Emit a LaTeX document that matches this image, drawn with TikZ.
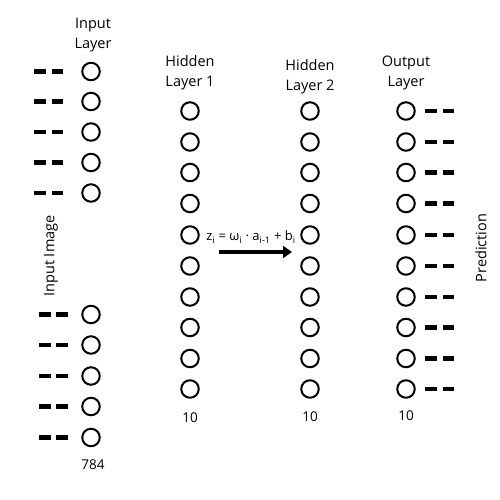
\documentclass[tikz,border=0pt]{standalone}
\usepackage{fontspec}
\setmainfont{Open Sans}
\usetikzlibrary{arrows.meta}
\begin{document}
\begin{tikzpicture}[x=1pt,y=-1pt,
  neuron/.style={circle,draw,line width=2pt,minimum size=17.5pt,inner sep=0pt},
  lbl/.style={font=\fontsize{14.5}{20}\selectfont,align=center,inner sep=0pt},
  num/.style={font=\fontsize{13.5}{15}\selectfont,inner sep=0pt},
  dashmark/.style={line width=4.5pt},
  bigarrow/.style={line width=3.5pt,-{Triangle[length=9pt,width=12pt]}}]
\useasboundingbox (0,0) rectangle (500,500);
% input layer
\foreach \y [count=\i] in {71.5,101.5,132,162.5,193}{
  \node[neuron] (in\i) at (91,\y) {};
  \draw[dashmark] ([xshift=-57pt]in\i.center) -- ++(12,0);
  \draw[dashmark] ([xshift=-39pt]in\i.center) -- ++(11,0);
}
\foreach \y [count=\i from 6] in {314.5,345,376,406.5,437.5}{
  \node[neuron] (in\i) at (91,\y) {};
  \draw[dashmark] ([xshift=-52pt]in\i.center) -- ++(12,0);
  \draw[dashmark] ([xshift=-35pt]in\i.center) -- ++(12,0);
}
\node[lbl] (inlab) at (93,35) {Input\\Layer};
\node[num] (in784) at (93,465) {784};
% hidden and output layers
\foreach \y [count=\i] in {111,142,172.5,203.5,235,266,297,327.5,358.5,389}{
  \node[neuron] (ha\i) at (190,\y) {};
  \node[neuron] (hb\i) at (310,\y) {};
  \node[neuron] (out\i) at (406,\y) {};
  \draw[dashmark] ([xshift=19pt]out\i.center) -- ++(12,0);
  \draw[dashmark] ([xshift=37pt]out\i.center) -- ++(11,0);
}
\node[lbl] (halab) at (190,73) {Hidden\\Layer 1};
\node[lbl] (hblab) at (310,77) {Hidden\\Layer 2};
\node[lbl] (outlab) at (406,73) {Output\\Layer};
\node[num] (hanum) at (190,418) {10};
\node[num] (hbnum) at (310,417) {10};
\node[num] (outnum) at (406,416) {10};
\node[lbl,rotate=90] (inimg) at (51,256) {Input Image};
\node[lbl,rotate=90] (pred) at (481,248) {Prediction};
\node[font=\fontsize{13}{14}\selectfont,inner sep=0pt] (formula) at (251,237)
  {z\textsubscript{i} = ω\textsubscript{i} · a\textsubscript{i-1} + b\textsubscript{i}};
\coordinate (arrs) at (219,252);
\coordinate (arre) at (292,252);
\draw[bigarrow] (arrs) -- (arre);
\end{tikzpicture}
\end{document}
